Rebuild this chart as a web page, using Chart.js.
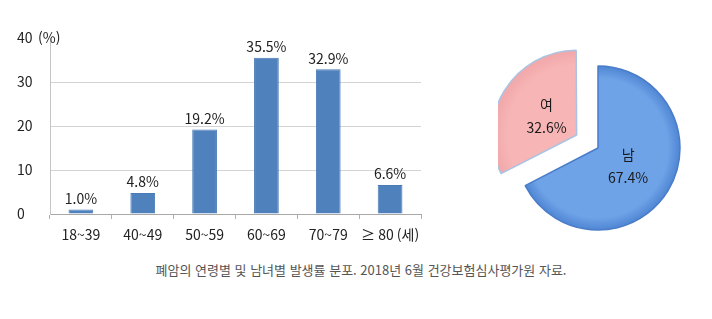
<!DOCTYPE html>
<html lang="ko">
<head>
<meta charset="utf-8">
<script src="https://cdn.jsdelivr.net/npm/chart.js@4/dist/chart.umd.min.js"></script>
<style>
  html, body { margin: 0; padding: 0; background: #fff; }
  body { width: 712px; height: 319px; position: relative; overflow: hidden; }
  #barWrap { position: absolute; left: 0; top: 0; width: 440px; height: 250px; }
  #pieWrap { position: absolute; left: 498px; top: 48px; width: 200px; height: 200px; }
  .caption {
    position: absolute; left: 0; top: 260px; width: 722px; text-align: center;
    font-family: "Noto Sans CJK KR", "Noto Sans", sans-serif; font-size: 13px; color: #555;
  }
</style>
</head>
<body>
<div id="barWrap"><canvas id="barChart"></canvas></div>
<div id="pieWrap"><canvas id="pieChart"></canvas></div>
<div class="caption">폐암의 연령별 및 남녀별 발생률 분포. 2018년 6월 건강보험심사평가원 자료.</div>

<script>
// ===== Age distribution (%) =====
const ageLabels = ["18~39", "40~49", "50~59", "60~69", "70~79", "≥ 80 (세)"];
const ageValues = [1.0, 4.8, 19.2, 35.5, 32.9, 6.6];
const yTicks = [0, 10, 20, 30, 40];

// ===== Sex distribution (%) =====
const sexLabels = ["남", "여"];
const sexValues = [67.4, 32.6];

const FONT = "'Noto Sans CJK KR', 'Noto Sans', sans-serif";
Chart.defaults.font.family = FONT;
Chart.defaults.color = "#222";
Chart.defaults.animation = false;

// ===== value labels above bars + unit on y axis =====
const barLabelPlugin = {
  id: "barLabels",
  afterDatasetsDraw(chart) {
    const ctx = chart.ctx;
    const meta = chart.getDatasetMeta(0);
    ctx.save();
    ctx.font = "14px " + FONT;
    ctx.fillStyle = "#222";
    ctx.textAlign = "center";
    ctx.textBaseline = "bottom";
    meta.data.forEach((bar, i) => {
      ctx.fillText(ageValues[i].toFixed(1) + "%", bar.x, bar.y - 4);
    });
    // "(%)" next to the top tick
    const yScale = chart.scales.y;
    ctx.textAlign = "left";
    ctx.textBaseline = "middle";
    ctx.fillText("(%)", 38, yScale.getPixelForValue(40));
    ctx.restore();
  }
};

function createBarChart() {
  const ctx = document.getElementById("barChart").getContext("2d");
  new Chart(ctx, {
    type: "bar",
    data: {
      labels: ageLabels,
      datasets: [{
        data: ageValues,
        backgroundColor: "#4f81bd",
        borderColor: "#4a7ab5",
        borderWidth: 1,
        categoryPercentage: 1,
        barPercentage: 0.4
      }]
    },
    options: {
      responsive: true,
      maintainAspectRatio: false,
      layout: { padding: { left: 17, right: 19, top: 38, bottom: 0 } },
      plugins: { legend: { display: false }, tooltip: { enabled: false } },
      scales: {
        x: {
          afterFit(scale) { scale.height = 36; },
          grid: {
            offset: true,
            drawOnChartArea: false,
            drawTicks: true,
            tickLength: 5,
            color: "#b0b0b0"
          },
          border: { color: "#a8a8a8", width: 1 },
          ticks: { padding: 7, font: { size: 14 }, color: "#222", maxRotation: 0 }
        },
        y: {
          min: 0,
          max: 40,
          afterFit(scale) { scale.width = 33; },
          afterBuildTicks(scale) { scale.ticks = yTicks.map(v => ({ value: v })); },
          grid: {
            drawTicks: false,
            color: c => (c.tick && c.tick.value === 40) ? "rgba(0,0,0,0)" : "#d4d4d4"
          },
          border: { color: "#c4c4c4", width: 1 },
          ticks: {
            crossAlign: "far",
            padding: 0,
            font: { size: 14 },
            color: "#222"
          }
        }
      }
    },
    plugins: [barLabelPlugin]
  });
}

// ===== labels inside pie slices =====
const pieLabelPlugin = {
  id: "pieLabels",
  afterDatasetsDraw(chart) {
    const ctx = chart.ctx;
    const meta = chart.getDatasetMeta(0);
    ctx.save();
    ctx.font = "14px " + FONT;
    ctx.fillStyle = "#1a1a1a";
    ctx.textAlign = "center";
    ctx.textBaseline = "middle";
    meta.data.forEach((arc, i) => {
      const mid = (arc.startAngle + arc.endAngle) / 2;
      const off = (arc.options.offset || 0) / 4;
      const r = arc.outerRadius * 0.43 + off;
      const x = arc.x + Math.cos(mid) * r;
      const y = arc.y + Math.sin(mid) * r;
      ctx.fillText(sexLabels[i], x, y - 12);
      ctx.fillText(sexValues[i].toFixed(1) + "%", x, y + 11);
    });
    ctx.restore();
  }
};

const sliceInner = ["#6fa3e8", "#f7b5b5"];
const sliceOuter = ["#4f86d3", "#f2a9ab"];

function sliceFill(c) {
  const i = c.dataIndex;
  const arc = c.element;
  if (!arc || !arc.outerRadius) return sliceInner[i];
  const g = c.chart.ctx.createRadialGradient(arc.x, arc.y, 0, arc.x, arc.y, arc.outerRadius);
  g.addColorStop(0, sliceInner[i]);
  g.addColorStop(0.85, sliceInner[i]);
  g.addColorStop(1, sliceOuter[i]);
  return g;
}

function createPieChart() {
  const ctx = document.getElementById("pieChart").getContext("2d");
  new Chart(ctx, {
    type: "pie",
    data: {
      labels: sexLabels,
      datasets: [{
        data: sexValues,
        backgroundColor: sliceFill,
        borderColor: ["#4a7cc8", "#a9c4e2"],
        borderWidth: 1.5,
        offset: [0, 100]
      }]
    },
    options: {
      responsive: true,
      maintainAspectRatio: false,
      radius: 82,
      plugins: { legend: { display: false }, tooltip: { enabled: false } }
    },
    plugins: [pieLabelPlugin]
  });
}

createBarChart();
createPieChart();
</script>
</body>
</html>
